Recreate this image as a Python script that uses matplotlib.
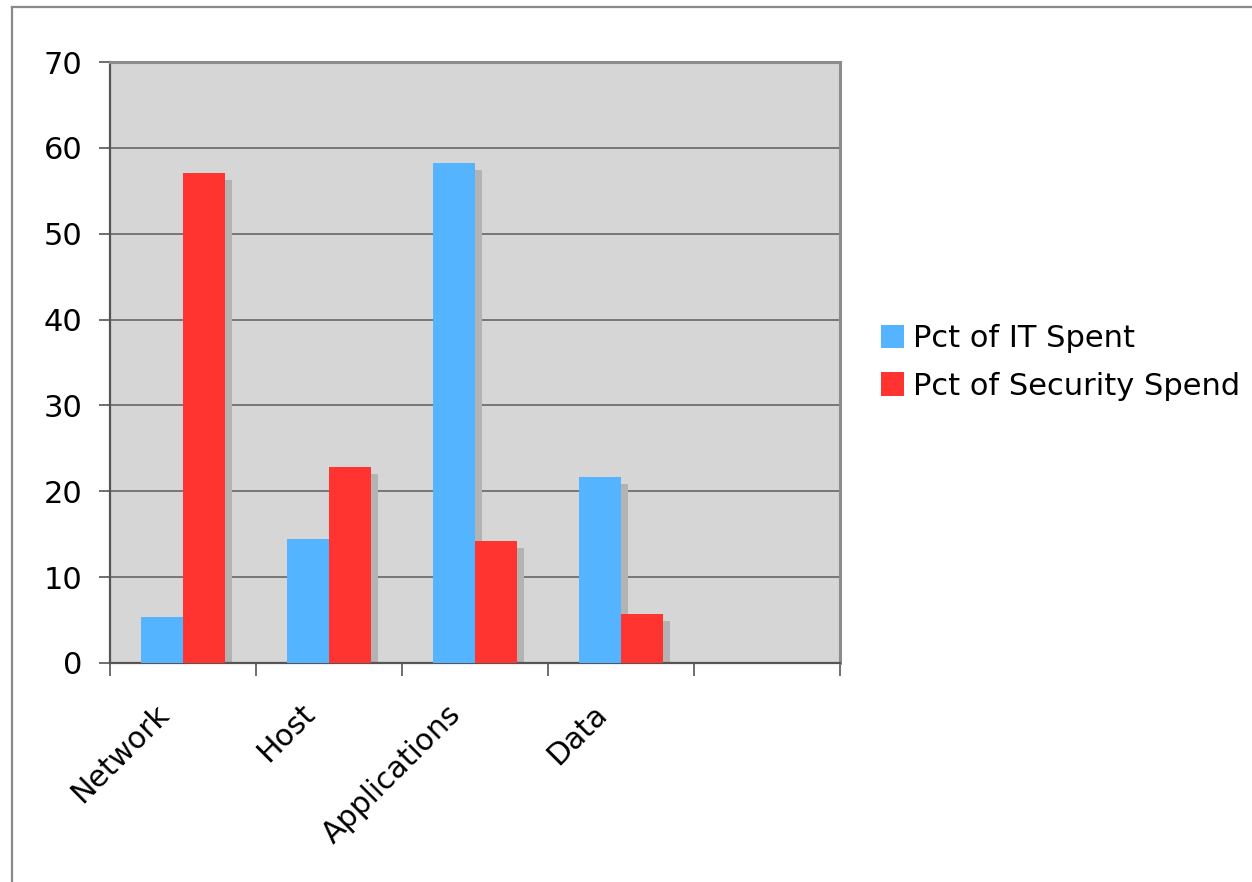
import matplotlib
matplotlib.use("Agg")
import matplotlib.pyplot as plt
from matplotlib.lines import Line2D
from matplotlib.transforms import ScaledTranslation
import numpy as np

categories = ["Network", "Host", "Applications", "Data", ""]
it_spent = [5.4, 14.5, 58.2, 21.7]
security_spend = [57.1, 22.8, 14.2, 5.7]
y_ticks = [0, 10, 20, 30, 40, 50, 60, 70]

blue = "#55b4ff"
red = "#ff3430"
shadow = "#b3b3b3"

fig = plt.figure(figsize=(12.52, 8.82), dpi=100)
ax = fig.add_axes([0.0879, 0.2483, 0.583, 0.6814])
ax.set_facecolor("#d6d6d6")

x = np.arange(len(it_spent))
w = 0.29
dx, dy = 0.048, 0.8

# drop shadows first
ax.bar(x - w / 2 + dx, np.array(it_spent) - dy, w, color=shadow, zorder=2)
ax.bar(x + w / 2 + dx, np.array(security_spend) - dy, w, color=shadow, zorder=2)
ax.bar(x - w / 2, it_spent, w, color=blue, zorder=3, label="Pct of IT Spent")
ax.bar(x + w / 2, security_spend, w, color=red, zorder=3, label="Pct of Security Spend")

ax.set_xlim(-0.5, len(categories) - 0.5)
ax.set_ylim(0, 70)
ax.set_yticks(y_ticks)
ax.yaxis.grid(True, color="#5c5c5c", linewidth=1.1, zorder=1)
ax.set_axisbelow(True)

ax.set_xticks(np.arange(len(categories) + 1) - 0.5)
ax.set_xticklabels([])
ax.set_xticks(np.arange(len(categories)), minor=True)
ax.set_xticklabels(categories, minor=True, rotation=45, ha="right", va="top",
                   rotation_mode="anchor", fontsize=21.5)
ax.tick_params(axis="x", which="minor", length=0, pad=26)
ax.tick_params(axis="x", which="major", length=9, width=1.2, color="#555555")
ax.tick_params(axis="y", length=8, width=1.2, color="#555555", labelsize=22, pad=12)
off = ScaledTranslation(-0.29, 0, fig.dpi_scale_trans)
for lab in ax.get_xticklabels(minor=True):
    lab.set_transform(lab.get_transform() + off)

for s in ["left", "bottom"]:
    ax.spines[s].set_color("#555555")
    ax.spines[s].set_linewidth(1.6)
for s in ["top", "right"]:
    ax.spines[s].set_color("#8c8c8c")
    ax.spines[s].set_linewidth(2.2)

ax.legend(loc="center left", bbox_to_anchor=(1.04, 0.5), frameon=False,
          fontsize=22, handlelength=0.75, handleheight=0.8,
          handletextpad=0.3, labelspacing=0.6, borderaxespad=0)

# outer frame (left and top edges only visible)
fig.add_artist(Line2D([0.0097, 0.0097], [0, 0.992], transform=fig.transFigure,
                      color="#8a8a8a", linewidth=1.6))
fig.add_artist(Line2D([0.0097, 1.0], [0.992, 0.992], transform=fig.transFigure,
                      color="#8a8a8a", linewidth=1.6))

fig.savefig("out.png", dpi=100, facecolor="white")
